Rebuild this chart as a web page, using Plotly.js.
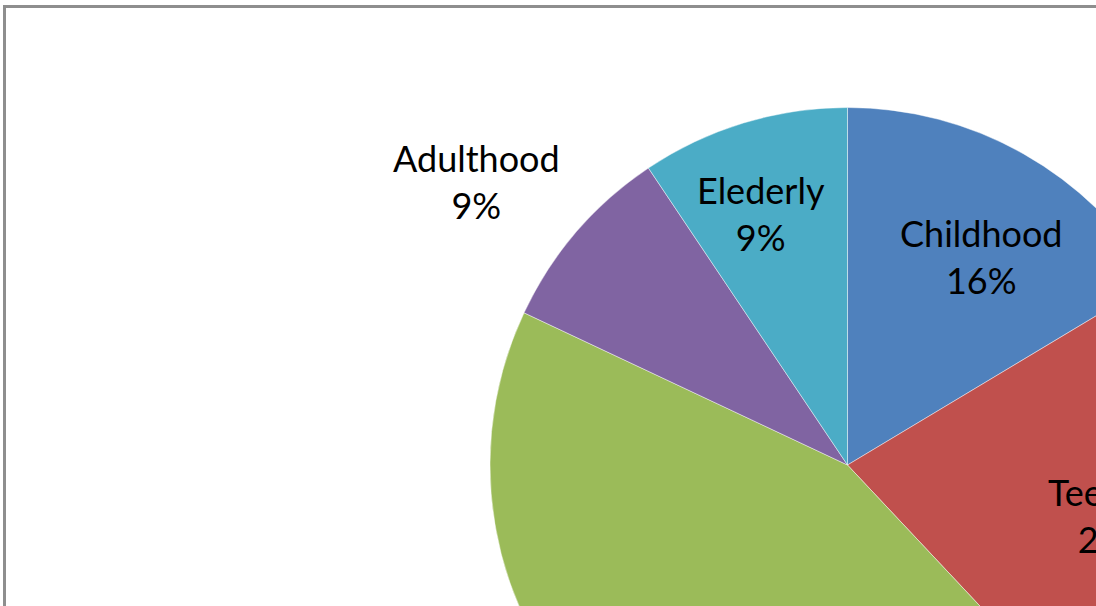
<!DOCTYPE html>
<html>
<head>
<meta charset="utf-8">
<script src="https://cdn.plot.ly/plotly-3.0.1.min.js"></script>
<style>
  html, body { margin: 0; padding: 0; background: #ffffff; }
  #frame { position: relative; width: 1096px; height: 606px; overflow: hidden; background: #ffffff; }
  #chart { position: absolute; left: 0; top: 0; }
</style>
</head>
<body>
<div id="frame"><div id="chart"></div></div>
<script>
// ---- data ----
const categories = ['Childhood', 'Teenage', 'Young Adulthood', 'Adulthood', 'Elederly'];
const values = [16.4, 21.6, 44.0, 8.6, 9.4];
const sliceColors = ['#4f81bd', '#c0504d', '#9bbb59', '#8064a2', '#4bacc6'];

// ---- layout tuning (label placement as fraction of radius, small angular nudges) ----
const labelRadius = [0.694, 0.755, 0.72, 1.305, 0.743];
const labelTurn = [3.2, 2.9, 0, -3.3, -2.1];

const W = 1400, H = 1000;          // plot canvas (cropped by frame)
const CX = 847.5, CY = 465, R = 357.5; // pie centre / radius in pixels

const total = values.reduce((a, b) => a + b, 0);

const trace = {
  type: 'pie',
  labels: categories,
  values: values,
  sort: false,
  direction: 'clockwise',
  rotation: 0,
  textinfo: 'none',
  hoverinfo: 'skip',
  marker: { colors: sliceColors, line: { color: 'rgba(255,255,255,0.55)', width: 0.8 } },
  domain: { x: [(CX - R) / W, (CX + R) / W], y: [(H - CY - R) / H, (H - CY + R) / H] },
  showlegend: false
};

// labels placed along each slice's angle, derived from the values
const annotations = [];
let acc = 0;
values.forEach((v, i) => {
  const mid = (acc + v / 2) / total * 360 + labelTurn[i];
  acc += v;
  const rad = mid * Math.PI / 180;
  const px = CX + labelRadius[i] * R * Math.sin(rad);
  const py = CY - labelRadius[i] * R * Math.cos(rad);
  annotations.push({
    xref: 'paper', yref: 'paper',
    x: px / W, y: (H - py) / H,
    xanchor: 'center', yanchor: 'middle',
    text: categories[i] + '<br>' + Math.round(v / total * 100) + '%',
    showarrow: false,
    align: 'center',
    font: { family: 'Lato, "Open Sans", sans-serif', size: 36, color: '#000000' }
  });
});

const layout = {
  width: W, height: H,
  margin: { l: 0, r: 0, t: 0, b: 0 },
  paper_bgcolor: '#ffffff',
  plot_bgcolor: '#ffffff',
  showlegend: false,
  annotations: annotations,
  shapes: [{
    type: 'rect', xref: 'paper', yref: 'paper', layer: 'below',
    x0: 4.5 / W, x1: 1300 / W,
    y0: (H - 950) / H, y1: (H - 6.5) / H,
    line: { color: '#8e8e8e', width: 3 },
    fillcolor: 'rgba(0,0,0,0)'
  }]
};

Plotly.newPlot('chart', [trace], layout, { staticPlot: true, displayModeBar: false });
</script>
</body>
</html>
